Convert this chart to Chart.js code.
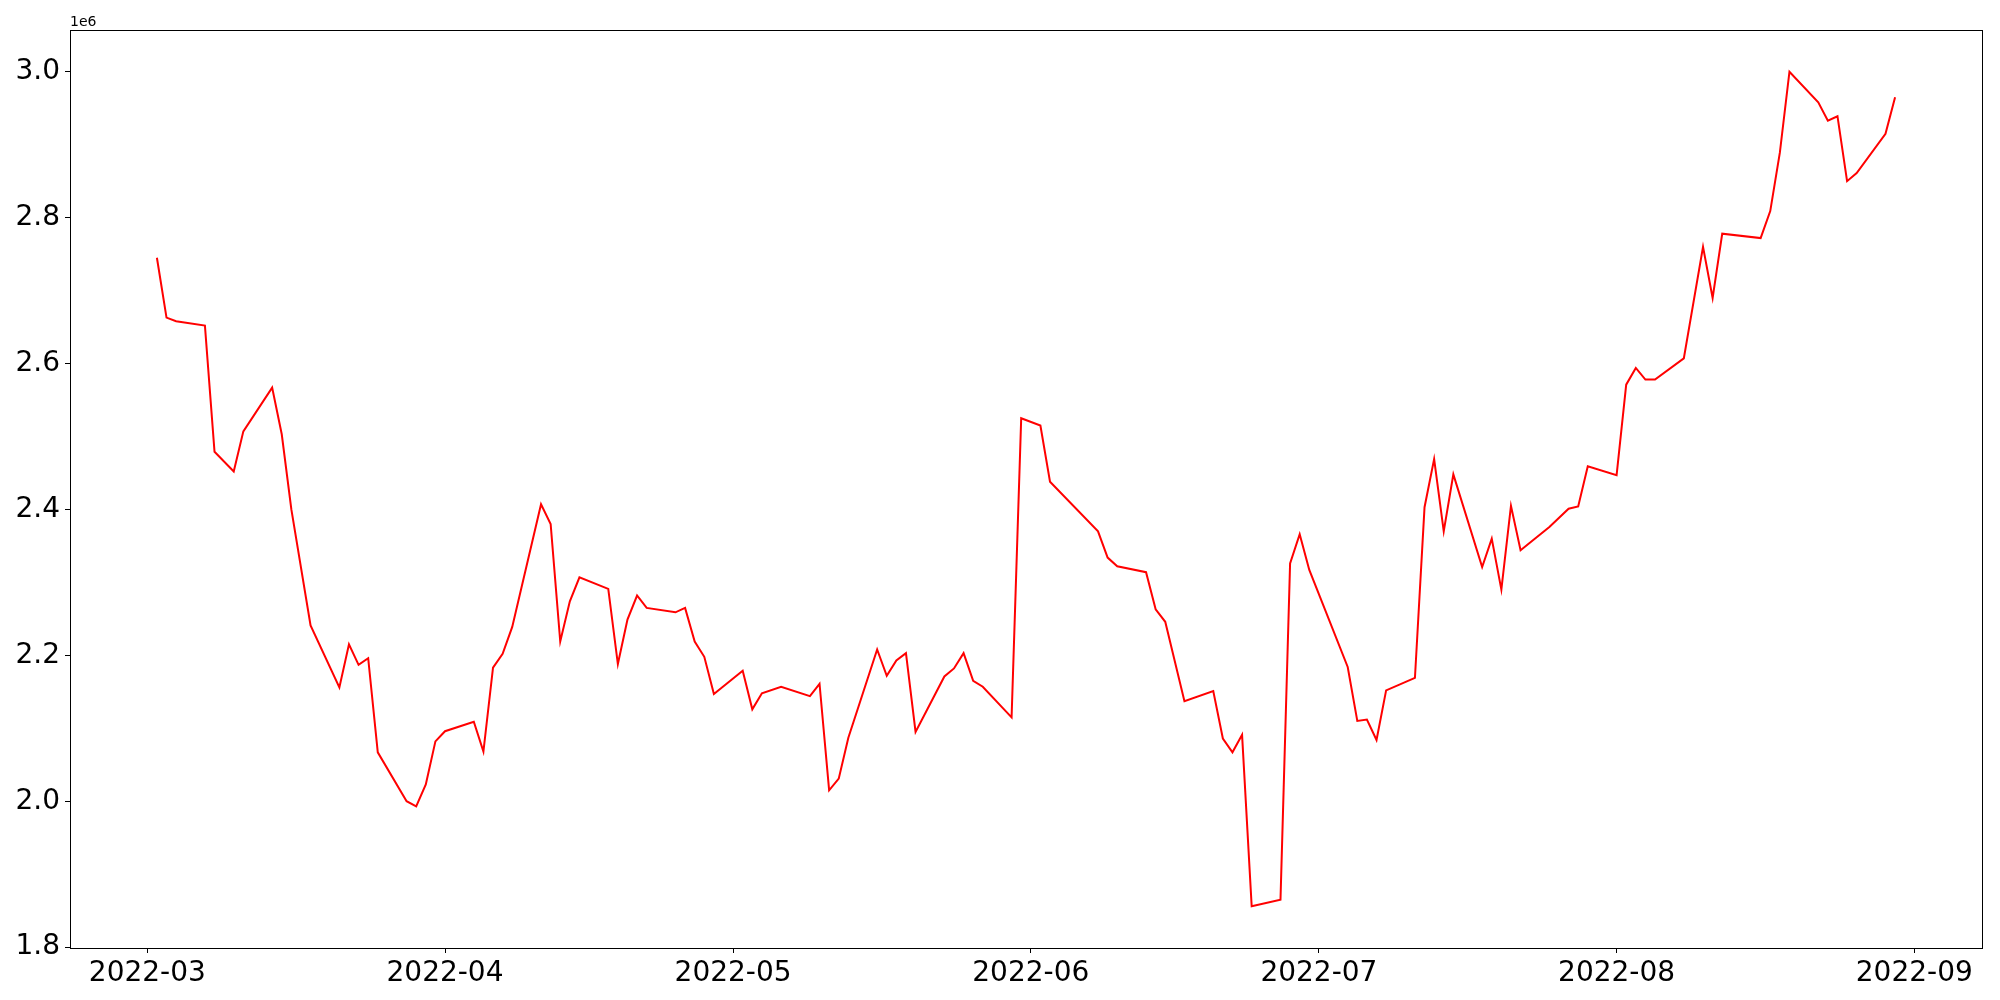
<!DOCTYPE html>
<html>
<head>
<meta charset="utf-8">
<script src="https://cdn.jsdelivr.net/npm/chart.js@4.4.1/dist/chart.umd.min.js"></script>
<style>
  body { margin: 0; background: #fff; }
  #wrap { width: 2000px; height: 1000px; }
</style>
</head>
<body>
<div id="wrap"><canvas id="chart" width="2000" height="1000"></canvas></div>
<script>
// trading days shown on the chart
const dates = [
  '2022-03-02','2022-03-03','2022-03-04','2022-03-07','2022-03-08','2022-03-10','2022-03-11',
  '2022-03-14','2022-03-15','2022-03-16','2022-03-18','2022-03-21','2022-03-22','2022-03-23',
  '2022-03-24','2022-03-25','2022-03-28','2022-03-29','2022-03-30','2022-03-31','2022-04-01',
  '2022-04-04','2022-04-05','2022-04-06','2022-04-07','2022-04-08','2022-04-11','2022-04-12',
  '2022-04-13','2022-04-14','2022-04-15','2022-04-18','2022-04-19','2022-04-20','2022-04-21',
  '2022-04-22','2022-04-25','2022-04-26','2022-04-27','2022-04-28','2022-04-29','2022-05-02',
  '2022-05-03','2022-05-04','2022-05-06','2022-05-09','2022-05-10','2022-05-11','2022-05-12',
  '2022-05-13','2022-05-16','2022-05-17','2022-05-18','2022-05-19','2022-05-20','2022-05-23',
  '2022-05-24','2022-05-25','2022-05-26','2022-05-27','2022-05-30','2022-05-31','2022-06-02',
  '2022-06-03','2022-06-08','2022-06-09','2022-06-10','2022-06-13','2022-06-14','2022-06-15',
  '2022-06-17','2022-06-20','2022-06-21','2022-06-22','2022-06-23','2022-06-24','2022-06-27',
  '2022-06-28','2022-06-29','2022-06-30','2022-07-04','2022-07-05','2022-07-06','2022-07-07',
  '2022-07-08','2022-07-11','2022-07-12','2022-07-13','2022-07-14','2022-07-15','2022-07-18',
  '2022-07-19','2022-07-20','2022-07-21','2022-07-22','2022-07-25','2022-07-27','2022-07-28',
  '2022-07-29','2022-08-01','2022-08-02','2022-08-03','2022-08-04','2022-08-05','2022-08-08',
  '2022-08-10','2022-08-11','2022-08-12','2022-08-16','2022-08-17','2022-08-18','2022-08-19',
  '2022-08-22','2022-08-23','2022-08-24','2022-08-25','2022-08-26','2022-08-29','2022-08-30'
];

const values = [
  2745000,2663000,2658000,2652000,2479000,2452000,2507000,
  2567000,2503000,2400000,2241000,2156000,2215000,2187000,
  2196000,2067000,2000000,1993000,2023000,2082000,2096000,
  2109000,2068000,2183000,2202000,2239000,2407000,2380000,
  2219000,2274000,2307000,2291000,2188000,2249000,2282000,
  2265000,2259000,2265000,2219000,2198000,2147000,2179000,
  2126000,2148000,2157000,2144000,2161000,2015000,2031000,
  2087000,2208000,2172000,2193000,2203000,2095000,2171000,
  2182000,2203000,2165000,2157000,2115000,2525000,2515000,
  2438000,2370000,2334000,2322000,2314000,2263000,2246000,
  2137000,2151000,2086000,2067000,2091000,1856000,1865000,
  2326000,2366000,2317000,2184000,2110000,2112000,2084000,
  2152000,2169000,2403000,2469000,2370000,2448000,2321000,
  2360000,2290000,2405000,2344000,2376000,2401000,2404000,
  2459000,2447000,2571000,2594000,2578000,2578000,2607000,
  2760000,2690000,2778000,2772000,2809000,2889000,3000000,
  2958000,2933000,2939000,2850000,2861000,2915000,2965000
];

const monthTicks = ['2022-03','2022-04','2022-05','2022-06','2022-07','2022-08','2022-09'];
const yTicks = [1800000,2000000,2200000,2400000,2600000,2800000,3000000];

const toMs = s => {
  const p = s.split('-').map(Number);
  return Date.UTC(p[0], p[1] - 1, p[2] || 1);
};

const points = dates.map((d, i) => ({ x: toMs(d), y: values[i] }));

// matplotlib style 5% margins
const xs = points.map(p => p.x);
const xMinD = Math.min(...xs), xMaxD = Math.max(...xs);
const xPad = (xMaxD - xMinD) * 0.05;
const yMinD = Math.min(...values), yMaxD = Math.max(...values);
const yPad = (yMaxD - yMinD) * 0.05;

const frame = {
  id: 'frame',
  afterDraw(chart) {
    const { ctx, chartArea: a } = chart;
    ctx.save();
    ctx.strokeStyle = '#000';
    ctx.lineWidth = 1;
    ctx.strokeRect(Math.round(a.left) + 0.5, Math.round(a.top) + 0.5,
      Math.round(a.right - a.left), Math.round(a.bottom - a.top));
    ctx.fillStyle = '#000';
    ctx.font = '14px "DejaVu Sans"';
    ctx.textBaseline = 'alphabetic';
    ctx.fillText('1e6', a.left, a.top - 4);
    ctx.restore();
  }
};

Chart.defaults.font.family = '"DejaVu Sans", sans-serif';
Chart.defaults.color = '#000';

new Chart(document.getElementById('chart'), {
  type: 'line',
  data: {
    datasets: [{
      data: points,
      borderColor: '#ff0000',
      borderWidth: 2,
      pointRadius: 0,
      tension: 0,
      fill: false
    }]
  },
  options: {
    responsive: false,
    animation: false,
    layout: { padding: { top: 30, right: 18, left: 0, bottom: 0 } },
    plugins: { legend: { display: false }, tooltip: { enabled: false } },
    scales: {
      x: {
        type: 'linear',
        min: xMinD - xPad,
        max: xMaxD + xPad,
        afterBuildTicks: s => { s.ticks = monthTicks.map(m => ({ value: toMs(m) })); },
        afterFit: s => { s.height = 52; },
        ticks: {
          autoSkip: false,
          maxRotation: 0,
          padding: 4,
          font: { size: 28 },
          color: '#000',
          callback: v => {
            const d = new Date(v);
            return d.getUTCFullYear() + '-' + String(d.getUTCMonth() + 1).padStart(2, '0');
          }
        },
        grid: { drawOnChartArea: false, drawTicks: true, tickLength: 5, color: '#000' },
        border: { display: true, color: '#000', width: 1 }
      },
      y: {
        min: yMinD - yPad,
        max: yMaxD + yPad,
        afterBuildTicks: s => { s.ticks = yTicks.map(v => ({ value: v })); },
        afterFit: s => { s.width = 70; },
        ticks: {
          padding: 5,
          font: { size: 28 },
          color: '#000',
          callback: v => (v / 1e6).toFixed(1)
        },
        grid: { drawOnChartArea: false, drawTicks: true, tickLength: 5, color: '#000' },
        border: { display: true, color: '#000', width: 1 }
      }
    }
  },
  plugins: [frame]
});
</script>
</body>
</html>
